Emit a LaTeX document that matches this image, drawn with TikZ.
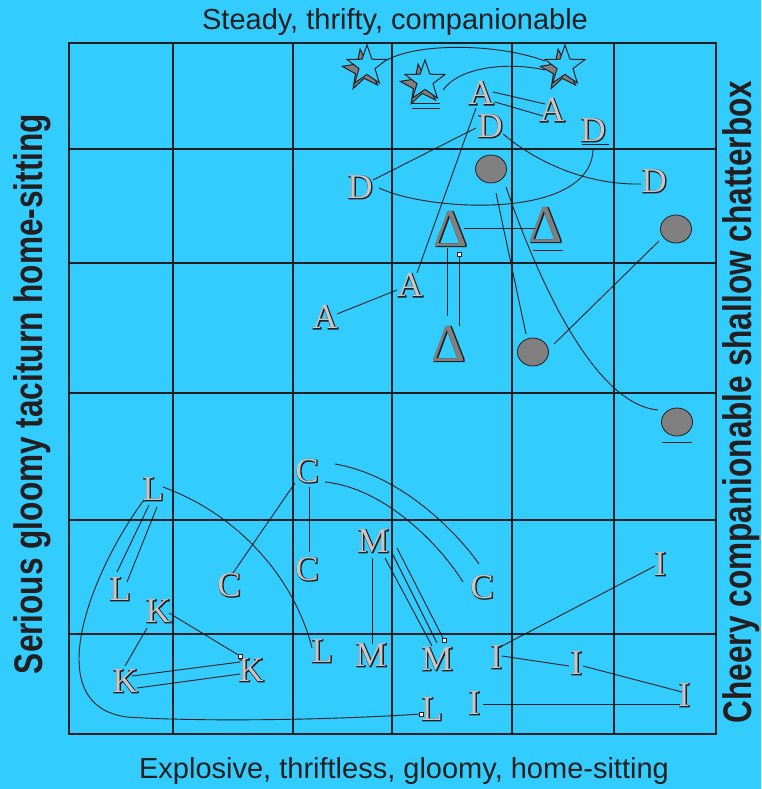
\documentclass[tikz,border=0pt]{standalone}
\usepackage{fontspec}
\setmainfont{Liberation Sans}
\newfontfamily\serifsym{Liberation Serif}
\newfontfamily\serifsymbold[FakeBold=4]{Liberation Serif}
\newfontfamily\serifsymthin[FakeBold=2.5]{Liberation Serif}
\usetikzlibrary{shapes.geometric,calc}
\definecolor{sky}{RGB}{51,204,255}
\definecolor{ink}{RGB}{35,31,32}
\definecolor{lead}{RGB}{128,128,128}
\newcommand{\emboss}[2][black!22]{\rlap{\hspace{0.6pt}\raisebox{-0.6pt}{\color{ink}\serifsymbold #2}}{\color{#1}#2}}
\newcommand{\embossdelta}[1]{\rlap{\color{ink}\serifsymthin #1}{\color{lead}#1}}
\tikzset{
  rule/.style={draw=ink,line width=1.2pt},
  tie/.style={draw=ink,line width=0.9pt},
  sym/.style={font=\fontsize{35}{35}\selectfont\serifsym,inner sep=0pt},
  delta/.style={font=\fontsize{53}{53}\selectfont\serifsym,inner sep=0pt},
  spot/.style={ellipse,draw=ink,fill=lead,line width=0.8pt,minimum width=31pt,
               minimum height=28pt,inner sep=0pt},
  astro/.style={star,star points=5,star point ratio=2.5,minimum size=42pt,
                inner sep=0pt,draw=ink,line width=1pt,fill=sky},
  handle/.style={rectangle,draw=ink,fill=white,line width=0.6pt,minimum size=4pt,inner sep=0pt},
  head/.style={font=\fontsize{29}{29}\selectfont,text=ink,anchor=base,inner sep=0pt},
  side/.style={font=\fontsize{40}{40}\selectfont\bfseries,text=ink,anchor=base,
               rotate=90,inner sep=0pt},
}
\begin{document}
\begin{tikzpicture}[x=1pt,y=-1pt]
  \fill[sky] (0,0) rectangle (761,789);
  \useasboundingbox (0,0) rectangle (761,789);
  \draw[rule] (69,43) rectangle (716,734);
  \foreach \x in {173,293,392,512,614} \draw[rule] (\x,43) -- (\x,734);
  \foreach \y in {149,263,393,520,634} \draw[rule] (69,\y) -- (716,\y);

  \node[head] (top) at (395,30) {Steady, thrifty, companionable};
  \node[head] (bottom) at (404,778) {Explosive, thriftless, gloomy, home-sitting};
  \node[side] (left) at (42,394) {\scalebox{0.79}[1]{Serious gloomy taciturn home-sitting}};
  \node[side] (right) at (751,402) {\scalebox{0.79}[1]{Cheery companionable shallow chatterbox}};

  \node[astro,fill=lead,rotate=8] (s1b) at (363,70) {};
  \node[astro] (s1) at (367,66) {};
  \node[astro,fill=lead,rotate=8] (s2b) at (421,85) {};
  \node[astro] (s2) at (425,81) {};
  \node[astro,fill=lead,rotate=8] (s3b) at (561,70) {};
  \node[astro] (s3) at (565,66) {};

  \node[sym] (a1) at (481,93) {\emboss{A}};
  \node[sym] (a2) at (552,110) {\emboss{A}};
  \node[sym] (a3) at (410,285) {\emboss{A}};
  \node[sym] (a4) at (325,317) {\emboss{A}};
  \node[sym] (d1) at (490,126) {\emboss{D}};
  \node[sym] (d2) at (593,130) {\emboss{D}};
  \node[sym] (d3) at (360,187) {\emboss{D}};
  \node[sym] (d4) at (654,181) {\emboss{D}};

  \node[spot] (o1) at (491,169) {};
  \node[spot] (o2) at (676,229) {};
  \node[spot] (o3) at (533,352) {};
  \node[spot] (o4) at (677,422) {};

  \node[delta] (t1) at (451,229) {\embossdelta{Δ}};
  \node[delta] (t2) at (546,225) {\embossdelta{Δ}};
  \node[delta] (t3) at (449,344) {\embossdelta{Δ}};

  \node[sym] (l1) at (153,489) {\emboss{L}};
  \node[sym] (l2) at (120,589) {\emboss{L}};
  \node[sym] (l3) at (322,651) {\emboss{L}};
  \node[sym] (l4) at (432,709) {\emboss{L}};
  \node[sym] (k1) at (158,611) {\emboss{K}};
  \node[sym] (k2) at (125,681) {\emboss{K}};
  \node[sym] (k3) at (251,670) {\emboss{K}};
  \node[sym] (c1) at (307,471) {\emboss{C}};
  \node[sym] (c2) at (229,585) {\emboss{C}};
  \node[sym] (c3) at (307,569) {\emboss{C}};
  \node[sym] (c4) at (482,587) {\emboss{C}};
  \node[sym] (m1) at (373,541) {\emboss{M}};
  \node[sym] (m2) at (371,655) {\emboss{M}};
  \node[sym] (m3) at (437,659) {\emboss{M}};
  \node[sym] (i1) at (496,657) {\emboss{I}};
  \node[sym] (i2) at (576,663) {\emboss{I}};
  \node[sym] (i3) at (684,695) {\emboss{I}};
  \node[sym] (i4) at (660,564) {\emboss{I}};
  \node[sym] (i5) at (474,703) {\emboss{I}};

  \draw[tie] ($(s2)+(-13,22)$) -- ($(s2)+(15,22)$);
  \draw[tie] ($(s2)+(-13,27)$) -- ($(s2)+(15,27)$);
  \draw[tie] ($(d2)+(-11,14)$) -- ($(d2)+(16,14)$);
  \draw[tie] ($(t2)+(-13,25)$) -- ($(t2)+(17,25)$);
  \draw[tie] ($(o4)+(-15,20)$) -- ($(o4)+(15,20)$);

  \node[handle] (ht) at (459,254) {};
  \node[handle] (hm) at (444,640) {};
  \node[handle] (hk) at (240,656) {};
  \node[handle] (hl) at (421,714) {};

  \draw[tie] ($(s1)+(20,-6)$) .. controls (420,42) and (500,44) .. ($(s3)+(-20,-5)$);
  \draw[tie] ($(s2)+(18,9)$) .. controls (460,66) and (510,62) .. ($(s3)+(-20,4)$);
  \draw[tie] ($(a1)+(12,-1)$) -- ($(a2)+(-7,-6)$);
  \draw[tie] ($(a1)+(14,9)$) -- ($(a2)+(-9,6)$);
  \draw[tie] ($(a1)+(-5,15)$) -- ($(a3)+(7,-12)$);
  \draw[tie] ($(d1)+(-14,2)$) -- ($(d3)+(13,-7)$);
  \draw[tie] ($(d3)+(19,1)$) .. controls (430,212) and (590,220) .. ($(d2)+(0,20)$);
  \draw[tie] ($(d1)+(13,8)$) .. controls (540,165) and (590,185) .. ($(d4)+(-13,3)$);
  \draw[tie] ($(o1)+(5,24)$) -- ($(o3)+(-7,-18)$);
  \draw[tie] ($(o1)+(15,18)$) .. controls (545,300) and (600,405) .. ($(o4)+(-19,-12)$);
  \draw[tie] ($(o2)+(-17,12)$) -- ($(o3)+(21,-8)$);
  \draw[tie] ($(t1)+(13,-1)$) -- ($(t2)+(-11,3)$);
  \draw[tie] ($(t1)+(-4,19)$) -- ($(t3)+(-2,-28)$);
  \draw[tie] (ht) -- ($(t3)+(10,-18)$);
  \draw[tie] ($(a3)+(-13,5)$) -- ($(a4)+(12,-3)$);

  \draw[tie] ($(l1)+(-4,16)$) -- ($(l2)+(-3,-17)$);
  \draw[tie] ($(l1)+(4,18)$) -- ($(l2)+(7,-7)$);
  \draw[tie] ($(l1)+(-9,11)$) .. controls (95,565) and (35,705) .. (127,717)
             .. controls (200,722) and (330,720) .. (hl);
  \draw[tie] ($(l1)+(10,-2)$) .. controls (240,515) and (295,580) .. ($(l3)+(-10,-3)$);
  \draw[tie] ($(c1)+(-12,12)$) -- ($(c2)+(4,-12)$);
  \draw[tie] ($(c1)+(2,16)$) -- ($(c3)+(2,-17)$);
  \draw[tie] ($(c1)+(28,-7)$) .. controls (400,475) and (455,530) .. ($(c4)+(-3,-23)$);
  \draw[tie] ($(c1)+(18,11)$) .. controls (385,488) and (440,545) .. ($(c4)+(-19,-5)$);
  \draw[tie] ($(m1)+(-1,17)$) -- ($(m2)+(1,-11)$);
  \draw[tie] ($(m1)+(12,17)$) -- ($(m3)+(-5,-13)$);
  \draw[tie] ($(m1)+(19,12)$) -- ($(m3)+(0,-16)$);
  \draw[tie] ($(m1)+(24,7)$) -- (hm);
  \draw[tie] ($(k1)+(-11,17)$) -- ($(k2)+(0,-15)$);
  \draw[tie] ($(k1)+(11,2)$) -- (hk);
  \draw[tie] ($(k2)+(7,-5)$) -- ($(k3)+(-11,-8)$);
  \draw[tie] ($(k2)+(12,7)$) -- ($(k3)+(-11,4)$);
  \draw[tie] ($(i1)+(6,-11)$) -- ($(i4)+(-5,2)$);
  \draw[tie] ($(i1)+(6,-1)$) -- ($(i2)+(-7,3)$);
  \draw[tie] ($(i2)+(7,3)$) -- ($(i3)+(-2,-3)$);
  \draw[tie] ($(i5)+(9,1)$) -- ($(i3)+(-4,9)$);
\end{tikzpicture}
\end{document}
